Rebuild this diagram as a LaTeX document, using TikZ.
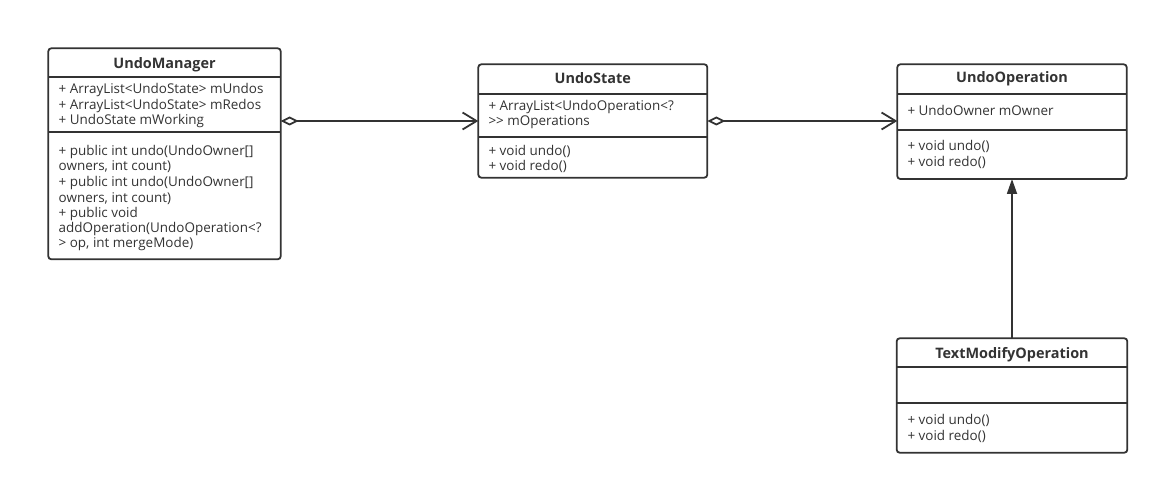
\documentclass[tikz,border=0pt]{standalone}
\usepackage{fontspec}
\setmainfont{Open Sans}
\usetikzlibrary{arrows.meta}
\definecolor{ln}{HTML}{333333}
\tikzset{
 cls/.style={draw=ln, line width=1.8bp, rounded corners=3bp, inner sep=0, outer sep=0, anchor=north west, fill=white},
 sepline/.style={draw=ln, line width=1.8bp},
 txt/.style={anchor=base west, inner sep=0, font=\fontsize{13.5}{15}\selectfont, text=ln},
 ttl/.style={anchor=base, inner sep=0, font=\bfseries\fontsize{14.5}{16}\selectfont, text=ln},
 conn/.style={draw=ln, line width=1.8bp},
 agg/.style={conn, {Diamond[open,length=18bp,width=9bp,fill=white]}-{Straight Barb[length=14bp,width=17bp]}},
 inh/.style={conn, -{Triangle[length=15bp,width=10bp,fill=ln]}},
}
\begin{document}
\begin{tikzpicture}[x=1bp,y=-1bp]
\useasboundingbox[fill=white] (0,0) rectangle (1159,485);
% UndoManager
\node[cls, minimum width=232.4bp, minimum height=211bp] (um) at (48.3,48.3) {};
\draw[sepline] (48.3,76.7) -- (280.7,76.7);
\draw[sepline] (48.3,131.7) -- (280.7,131.7);
\node[ttl] (umt) at (164.5,68.3) {UndoManager};
\node[txt] (uma1) at (58.5,94) {+ ArrayList{<}UndoState{>} mUndos};
\node[txt] (uma2) at (58.5,109.5) {+ ArrayList{<}UndoState{>} mRedos};
\node[txt] (uma3) at (58.5,125) {+ UndoState mWorking};
\node[txt] (umm1) at (58.5,155.7) {+ public int undo(UndoOwner[]};
\node[txt] (umm2) at (58.5,171) {owners, int count)};
\node[txt] (umm3) at (58.5,186.7) {+ public int undo(UndoOwner[]};
\node[txt] (umm4) at (58.5,202.3) {owners, int count)};
\node[txt] (umm5) at (58.5,217.5) {+ public void};
\node[txt] (umm6) at (58.5,232.5) {addOperation(UndoOperation{<}?};
\node[txt] (umm7) at (58.5,248) {{>} op, int mergeMode)};
% UndoState
\node[cls, minimum width=229bp, minimum height=113.4bp] (us) at (478.3,64.3) {};
\draw[sepline] (478.3,94) -- (707.3,94);
\draw[sepline] (478.3,136.7) -- (707.3,136.7);
\node[ttl] (ust) at (592.8,83.5) {UndoState};
\node[txt] (usa1) at (488.3,110.5) {+ ArrayList{<}UndoOperation{<}?};
\node[txt] (usa2) at (488.3,126) {{>}{>} mOperations};
\node[txt] (usm1) at (488.3,156) {+ void undo()};
\node[txt] (usm2) at (488.3,171) {+ void redo()};
% UndoOperation
\node[cls, minimum width=229.4bp, minimum height=114.7bp] (uo) at (897.3,64.3) {};
\draw[sepline] (897.3,94) -- (1126.7,94);
\draw[sepline] (897.3,130) -- (1126.7,130);
\node[ttl] (uot) at (1012,83) {UndoOperation};
\node[txt] (uoa1) at (907.3,115.7) {+ UndoOwner mOwner};
\node[txt] (uom1) at (907.3,150.5) {+ void undo()};
\node[txt] (uom2) at (907.3,166.2) {+ void redo()};
% TextModifyOperation
\node[cls, minimum width=230.6bp, minimum height=114.4bp] (tm) at (896.7,338.3) {};
\draw[sepline] (896.7,367.3) -- (1127.3,367.3);
\draw[sepline] (896.7,403.3) -- (1127.3,403.3);
\node[ttl] (tmt) at (1012,358.5) {TextModifyOperation};
\node[txt] (tmm1) at (907.3,424) {+ void undo()};
\node[txt] (tmm2) at (907.3,440) {+ void redo()};
% connectors
\draw[agg] (us.west -| um.east) -- (us.west);
\draw[agg] (us.east) -- (us.east -| uo.west);
\draw[inh] (tm.north) -- (uo.south);
\end{tikzpicture}
\end{document}
